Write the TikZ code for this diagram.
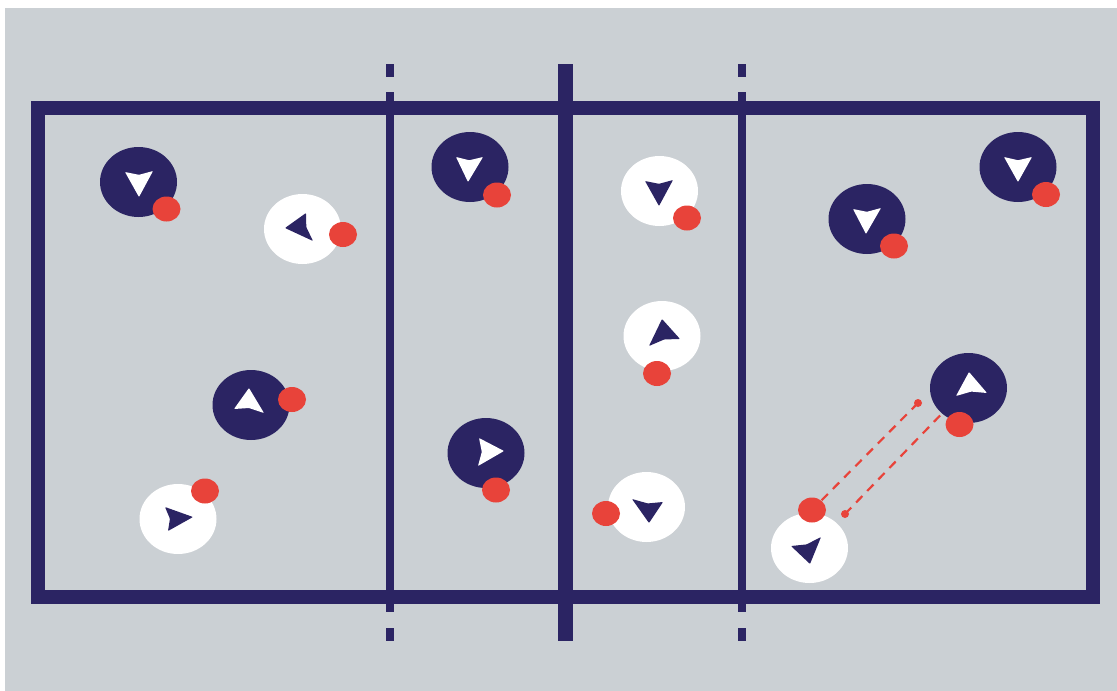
\documentclass[tikz,border=0pt]{standalone}
\usetikzlibrary{shapes.geometric,calc}
\definecolor{courtbg}{RGB}{203,208,212}
\definecolor{navy}{RGB}{43,36,99}
\definecolor{redball}{RGB}{232,67,58}
\tikzset{
  line/.style={draw=navy},
  navyp/.style={ellipse,fill=navy,minimum width=77pt,minimum height=70pt,inner sep=0pt},
  whitep/.style={ellipse,fill=white,minimum width=77pt,minimum height=70pt,inner sep=0pt},
  ball/.style={ellipse,fill=redball,minimum width=28pt,minimum height=25pt,inner sep=0pt},
  dot/.style={circle,fill=redball,minimum size=8pt,inner sep=0pt},
  pass/.style={draw=redball,line width=2.2pt,dash pattern=on 9pt off 7pt},
}
\newcommand{\dart}[4]{\fill[#4,rounded corners=0.8pt] (#1) -- (#2) -- ($(#2)!0.5!(#3)!0.13!(#1)$) -- (#3) -- cycle;}
\begin{document}
\begin{tikzpicture}[x=1pt,y=-1pt]
\useasboundingbox (0,0) rectangle (1117,691);
\fill[courtbg] (5,8) rectangle (1117,691);
% court
\draw[line,line width=14pt] (37.5,108) rectangle (1093,597);
\draw[line,line width=8pt] (389.5,92) -- (389.5,612);
\draw[line,line width=8pt] (389.5,64) -- (389.5,77);
\draw[line,line width=8pt] (389.5,628) -- (389.5,641);
\draw[line,line width=8pt] (742,92) -- (742,612);
\draw[line,line width=8pt] (742,64) -- (742,77);
\draw[line,line width=8pt] (742,628) -- (742,641);
\draw[line,line width=15pt] (565.5,64) -- (565.5,641);
% pass lines
\coordinate (s1) at (918,403);
\coordinate (s2) at (845,514);
\coordinate (e2) at (955,400);
\draw[pass] (s1) -- (812,510);
\draw[pass] (s2) -- (e2);
\node[dot] (d1) at (s1) {};
\node[dot] (d2) at (s2) {};
% players
\node[navyp] (p1) at (138.5,182) {};
\node[ball] (b1) at (166.5,209) {};
\dart{139,197}{125,172}{153,171}{white}
\node[whitep] (p2) at (302.5,229) {};
\node[ball] (b2) at (343,234.5) {};
\dart{285,228}{306,213}{313,241}{navy}
\node[navyp] (p3) at (251,405) {};
\node[ball] (b3) at (292,399.5) {};
\dart{249,388}{234,409}{264,413}{white}
\node[whitep] (p4) at (178,519) {};
\node[ball] (b4) at (205,491) {};
\dart{193,517}{165,507}{168,531}{navy}
\node[navyp] (p5) at (470,167) {};
\node[ball] (b5) at (497,195) {};
\dart{468,182}{456,157}{483,157}{white}
\node[navyp] (p6) at (486,453) {};
\node[ball] (b6) at (496,490) {};
\dart{504,451}{479,438}{478,466}{white}
\node[whitep] (p7) at (659.5,191) {};
\node[ball] (b7) at (687,218) {};
\dart{659,206}{645,181}{673,180}{navy}
\node[whitep] (p8) at (662,336) {};
\node[ball] (b8) at (657,373.5) {};
\dart{662,319}{649,346}{680,339}{navy}
\node[whitep] (p9) at (646.5,507) {};
\node[ball] (b9) at (606,513.5) {};
\dart{649,523}{632,499}{663,502}{navy}
\node[navyp] (p10) at (867,219) {};
\node[ball] (b10) at (894,246) {};
\dart{866,234}{853,209}{881,208}{white}
\node[navyp] (p11) at (1018,167) {};
\node[ball] (b11) at (1046,194.5) {};
\dart{1018,182}{1004,157}{1032,157}{white}
\node[navyp] (p12) at (968.5,388) {};
\node[ball] (b12) at (959.5,424.5) {};
\dart{969,372}{956,396}{987,393}{white}
\node[whitep] (p13) at (809.5,548) {};
\node[ball] (b13) at (812,510) {};
\dart{810,564}{791,546}{821,537}{navy}
\end{tikzpicture}
\end{document}
